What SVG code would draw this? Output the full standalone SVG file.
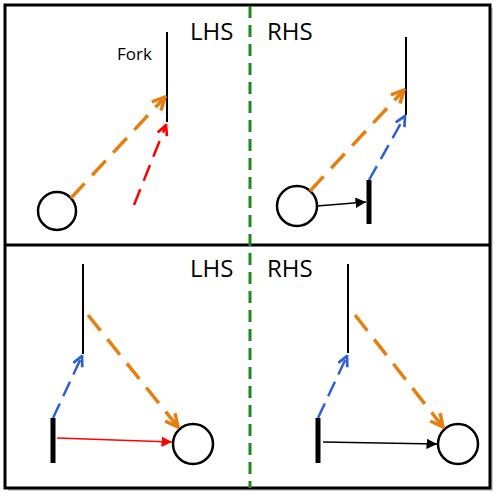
<svg xmlns="http://www.w3.org/2000/svg" width="500" height="500" viewBox="0 0 500 500">
<style>
.lbl{font-family:"Open Sans","Liberation Sans",sans-serif;fill:#000}
.big{font-size:24px}
.fork{stroke:#000;stroke-width:2;fill:none}
.bar{stroke:#000;stroke-width:5;fill:none}
.circ{stroke:#000;stroke-width:2.5;fill:#fff}
.orange{stroke:#E47F10;stroke-width:3.5;stroke-dasharray:20 11;fill:none}
.red{stroke:#FF0000;stroke-width:2.5;stroke-dasharray:17 9;fill:none}
.blue{stroke:#2F5FD6;stroke-width:2.5;stroke-dasharray:16 8;fill:none}
.solid{stroke:#000;stroke-width:1.5;fill:none}
.solidred{stroke:#FF0000;stroke-width:1.5;fill:none}
</style>
<defs>
<marker id="oO" viewBox="0 0 10 10" refX="9" refY="5" markerWidth="4.5" markerHeight="4.5" markerUnits="strokeWidth" orient="auto"><path d="M1,1 L9,5 L1,9" fill="none" stroke="#E47F10" stroke-width="2.2"/></marker>
<marker id="oR" viewBox="0 0 10 10" refX="9" refY="5" markerWidth="5" markerHeight="5" markerUnits="strokeWidth" orient="auto"><path d="M1,1 L9,5 L1,9" fill="none" stroke="#FF0000" stroke-width="2.2"/></marker>
<marker id="oB" viewBox="0 0 10 10" refX="9" refY="5" markerWidth="5" markerHeight="5" markerUnits="strokeWidth" orient="auto"><path d="M1,1 L9,5 L1,9" fill="none" stroke="#2F5FD6" stroke-width="2.2"/></marker>
<marker id="fK" viewBox="0 0 10 10" refX="10" refY="5" markerWidth="7" markerHeight="7" markerUnits="strokeWidth" orient="auto"><path d="M0,0 L10,5 L0,10 Z" fill="#000"/></marker>
<marker id="fR" viewBox="0 0 10 10" refX="10" refY="5" markerWidth="7" markerHeight="7" markerUnits="strokeWidth" orient="auto"><path d="M0,0 L10,5 L0,10 Z" fill="#FF0000"/></marker>
</defs>
<rect width="500" height="500" fill="#fff"/>
<g id="frame">
<rect x="8" y="8" width="485" height="483" fill="#d0d0d0"/>
<rect x="5" y="5" width="485" height="483" fill="#fff" stroke="#000" stroke-width="3"/>
<line x1="5" y1="245" x2="490" y2="245" stroke="#000" stroke-width="3"/>
<line x1="250" y1="6" x2="250" y2="488" stroke="#1E8A1E" stroke-width="3" stroke-dasharray="12 7"/>
</g>
<g id="labels">
<text class="lbl big" x="190" y="40">LHS</text>
<text class="lbl big" x="267" y="40">RHS</text>
<text class="lbl big" x="190" y="277">LHS</text>
<text class="lbl big" x="267" y="277">RHS</text>
</g>
<g id="tl">
<g id="tl-fork"><line class="fork" x1="167" y1="32" x2="167" y2="122"/><text class="lbl" x="117" y="60" font-size="17">Fork</text></g>
<g id="tl-circle"><circle class="circ" cx="57" cy="211" r="19"/></g>
</g>
<g id="tr">
<g id="tr-fork"><line class="fork" x1="406" y1="37" x2="406" y2="115"/></g>
<g id="tr-circle"><circle class="circ" cx="297" cy="206" r="20"/></g>
<g id="tr-bar"><line class="bar" x1="369" y1="180" x2="369" y2="224"/></g>
</g>
<g id="bl">
<g id="bl-fork"><line class="fork" x1="83" y1="264" x2="83" y2="354"/></g>
<g id="bl-bar"><line class="bar" x1="53" y1="418" x2="53" y2="463"/></g>
<g id="bl-circle"><circle class="circ" cx="193" cy="444" r="20"/></g>
</g>
<g id="br">
<g id="br-fork"><line class="fork" x1="348" y1="264" x2="348" y2="353"/></g>
<g id="br-bar"><line class="bar" x1="318" y1="418" x2="318" y2="463"/></g>
<g id="br-circle"><circle class="circ" cx="458" cy="444" r="20"/></g>
</g>
<g id="connectors">
<line class="orange" x1="71" y1="198" x2="165" y2="97" marker-end="url(#oO)"/>
<line class="red" x1="134" y1="205" x2="166" y2="125" marker-end="url(#oR)"/>
<line class="orange" x1="310" y1="191" x2="404" y2="90" marker-end="url(#oO)"/>
<line class="blue" x1="369" y1="180" x2="405" y2="116" marker-end="url(#oB)"/>
<line class="solid" x1="317" y1="206" x2="366" y2="202" marker-end="url(#fK)"/>
<line class="blue" x1="53" y1="418" x2="82" y2="356" marker-end="url(#oB)"/>
<line class="orange" x1="88" y1="315" x2="178" y2="427" marker-end="url(#oO)"/>
<line class="solidred" x1="57" y1="438" x2="172" y2="442" marker-end="url(#fR)"/>
<line class="blue" x1="318" y1="418" x2="347" y2="356" marker-end="url(#oB)"/>
<line class="orange" x1="355" y1="315" x2="443" y2="427" marker-end="url(#oO)"/>
<line class="solid" x1="323" y1="442" x2="437" y2="444" marker-end="url(#fK)"/>
</g>
</svg>
